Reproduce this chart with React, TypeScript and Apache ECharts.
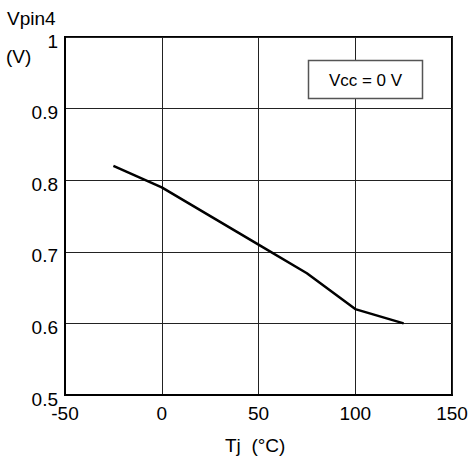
import React, { useEffect, useRef } from "react";
import * as echarts from "echarts";

const temps = [-25, 0, 50, 75, 100, 125];
const vpin4 = [0.82, 0.79, 0.71, 0.67, 0.62, 0.6];
const xTicks = [-50, 0, 50, 100, 150];
const yTicks = [0.5, 0.6, 0.7, 0.8, 0.9, 1];
const legendText = "Vcc = 0 V";
const yName = ["Vpin4", "(V)"];
const xName = "Tj  (°C)";

const FONT = "Liberation Sans, Arial, Helvetica, sans-serif";

export default function App() {
  const ref = useRef<HTMLDivElement>(null);
  useEffect(() => {
    if (!ref.current) return;
    const chart = echarts.init(ref.current, undefined, { renderer: "svg" });
    chart.setOption({
      animation: false,
      backgroundColor: "#fff",
      grid: {
        left: 65,
        top: 37,
        width: 387,
        height: 358,
        containLabel: false,
        show: true,
        borderColor: "#000",
        borderWidth: 2,
        backgroundColor: "transparent",
      },
      xAxis: {
        type: "value",
        min: xTicks[0],
        max: xTicks[xTicks.length - 1],
        interval: 50,
        axisLine: { show: true, onZero: false, lineStyle: { color: "#000", width: 2 } },
        axisTick: { show: false },
        splitLine: { show: true, lineStyle: { color: "#222", width: 1 } },
        axisLabel: {
          color: "#000",
          fontSize: 19,
          fontFamily: FONT,
          margin: 9,
          formatter: (v: number) => String(v),
        },
      },
      yAxis: {
        type: "value",
        min: yTicks[0],
        max: yTicks[yTicks.length - 1],
        interval: 0.1,
        axisLine: { show: true, onZero: false, lineStyle: { color: "#000", width: 2 } },
        axisTick: { show: false },
        splitLine: { show: true, lineStyle: { color: "#222", width: 1 } },
        axisLabel: {
          color: "#000",
          fontSize: 19,
          fontFamily: FONT,
          margin: 7,
          verticalAlign: "top",
          lineHeight: 8,
          formatter: (v: number) => {
            const r = Math.round(v * 10) / 10;
            return r === 1 ? "1" : r.toFixed(1);
          },
        },
      },
      series: [
        {
          type: "line",
          data: temps.map((t, i) => [t, vpin4[i]]),
          showSymbol: false,
          lineStyle: { color: "#000", width: 2.5 },
          z: 5,
        },
      ],
      graphic: [
        {
          type: "text",
          left: 7,
          top: 9,
          style: { text: yName[0], fill: "#000", fontSize: 19, fontFamily: FONT },
        },
        {
          type: "text",
          left: 6,
          top: 47,
          style: { text: yName[1], fill: "#000", fontSize: 19, fontFamily: FONT },
        },
        {
          type: "text",
          left: 225,
          top: 436,
          style: { text: xName, fill: "#000", fontSize: 19, fontFamily: FONT },
        },
        {
          type: "rect",
          shape: { x: 308.5, y: 60.5, width: 114, height: 38 },
          style: { fill: "#fff", stroke: "#555", lineWidth: 1.5 },
          z: 10,
        },
        {
          type: "text",
          x: 365.5,
          y: 80,
          style: {
            text: legendText,
            fill: "#000",
            fontSize: 17,
            fontFamily: FONT,
            align: "center",
            verticalAlign: "middle",
          },
          z: 11,
        },
      ],
    });
    return () => chart.dispose();
  }, []);
  return (
    <div
      ref={ref}
      style={{ position: "absolute", left: 0, top: 0, width: 475, height: 463 }}
    />
  );
}
